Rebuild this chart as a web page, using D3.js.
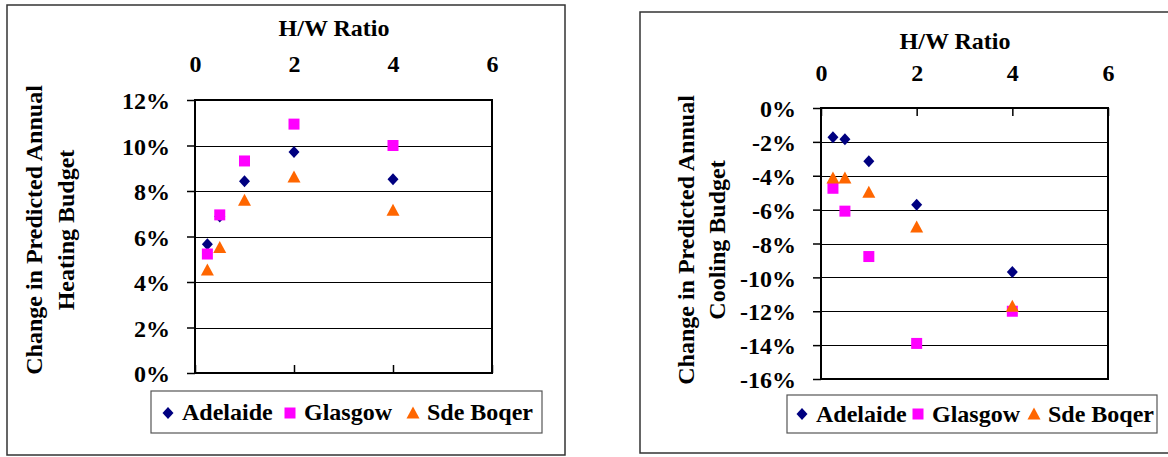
<!DOCTYPE html>
<html>
<head>
<meta charset="utf-8">
<script src="https://cdn.jsdelivr.net/npm/d3@7"></script>
<style>
  html, body { margin: 0; padding: 0; background: #fff; }
  svg { display: block; }
  text { font-family: "Liberation Serif", "Times New Roman", serif; font-weight: bold; fill: #000; }
</style>
</head>
<body>
<svg id="chart" width="1168" height="457"></svg>
<script>
// H/W ratio of the street canyon (x values shared by every series)
const hwRatio = [0.25, 0.5, 1, 2, 4];
const seriesNames = ["Adelaide", "Glasgow", "Sde Boqer"];

// Change in predicted annual heating budget (%)
const heatingAdelaide = [5.66, 6.88, 8.43, 9.71, 8.52];
const heatingGlasgow  = [5.23, 6.95, 9.32, 10.94, 10.0];
const heatingSdeBoqer = [4.53, 5.52, 7.59, 8.61, 7.15];

// Change in predicted annual cooling budget (%)
const coolingAdelaide = [-1.73, -1.85, -3.15, -5.71, -9.68];
const coolingGlasgow  = [-4.74, -6.09, -8.77, -13.9, -12.0];
const coolingSdeBoqer = [-4.13, -4.13, -4.98, -7.03, -11.7];

// Axis ticks
const xTicks = [0, 2, 4, 6];
const heatingTicks = [0, 2, 4, 6, 8, 10, 12];
const coolingTicks = [0, -2, -4, -6, -8, -10, -12, -14, -16];

const seriesColors = ["#000080", "#FF00FF", "#FF6600"];
const seriesShapes = ["diamond", "square", "triangle"];

const svg = d3.select("#chart");

function markerPath(shape) {
  const p = d3.path();
  if (shape === "diamond") {
    p.moveTo(0, -6); p.lineTo(5.5, 0); p.lineTo(0, 6); p.lineTo(-5.5, 0); p.closePath();
  } else if (shape === "square") {
    p.rect(-5.5, -5.5, 11, 11);
  } else {
    p.moveTo(0, -6.5); p.lineTo(6.5, 5.5); p.lineTo(-6.5, 5.5); p.closePath();
  }
  return p.toString();
}

function drawPanel(cfg) {
  const g = svg.append("g");

  // outer chart frame
  g.append("rect")
    .attr("x", cfg.frame[0]).attr("y", cfg.frame[1])
    .attr("width", cfg.frame[2] - cfg.frame[0]).attr("height", cfg.frame[3] - cfg.frame[1])
    .attr("fill", "#fff").attr("stroke", "#333").attr("stroke-width", 1.5);

  const x = d3.scaleLinear().domain([0, 6]).range([cfg.plot.x0, cfg.plot.x1]);
  const y = d3.scaleLinear().domain(cfg.yDomain).range([cfg.plot.y1, cfg.plot.y0]);

  // horizontal gridlines
  g.append("g")
    .selectAll("line")
    .data(cfg.yTicks.filter(t => t !== cfg.yDomain[0] && t !== cfg.yDomain[1]))
    .join("line")
    .attr("x1", cfg.plot.x0).attr("x2", cfg.plot.x1)
    .attr("y1", d => Math.round(y(d)) + 0.5).attr("y2", d => Math.round(y(d)) + 0.5)
    .attr("stroke", "#000").attr("stroke-width", 1);

  // y axis with outward ticks and percentage labels
  const yAxis = g.append("g")
    .attr("transform", `translate(${cfg.plot.x0},0)`)
    .call(d3.axisLeft(y).tickValues(cfg.yTicks).tickSize(8).tickPadding(17)
      .tickFormat(d => d + "%"));
  yAxis.select(".domain").remove();
  yAxis.selectAll(".tick line").attr("stroke", "#000").attr("stroke-width", 1.5);
  yAxis.selectAll(".tick text").attr("font-size", 24).attr("font-family", null)
    .attr("dy", "0.36em");

  // x axis ticks sit on the zero line, pointing into the plot
  const zeroY = y(0);
  const tickAxis = cfg.yDomain[1] === 0
    ? d3.axisBottom(x).tickValues(xTicks).tickSize(8).tickFormat("")
    : d3.axisTop(x).tickValues(xTicks).tickSize(8).tickFormat("");
  const xt = g.append("g").attr("transform", `translate(0,${zeroY})`).call(tickAxis);
  xt.select(".domain").remove();
  xt.selectAll(".tick line").attr("stroke", "#000").attr("stroke-width", 1.5);

  // x tick labels placed above the plot
  const xl = g.append("g")
    .attr("transform", `translate(0,${cfg.xLabelBaseline})`)
    .call(d3.axisTop(x).tickValues(xTicks).tickSize(0).tickPadding(0)
      .tickFormat(d3.format("d")));
  xl.select(".domain").remove();
  xl.selectAll(".tick text").attr("font-size", 24).attr("font-family", null).attr("dy", 0);

  // plot area border
  g.append("rect")
    .attr("x", cfg.plot.x0).attr("y", cfg.plot.y0)
    .attr("width", cfg.plot.x1 - cfg.plot.x0).attr("height", cfg.plot.y1 - cfg.plot.y0)
    .attr("fill", "none").attr("stroke", "#000").attr("stroke-width", 2);

  // x axis title
  g.append("text")
    .attr("x", cfg.xTitle[0]).attr("y", cfg.xTitle[1])
    .attr("text-anchor", "middle").attr("font-size", 24)
    .text("H/W Ratio");

  // y axis title on two rotated lines
  cfg.yTitleLines.forEach((line, i) => {
    g.append("text")
      .attr("transform", `translate(${cfg.yTitleX[i]},${cfg.yTitleCenter}) rotate(-90)`)
      .attr("text-anchor", "middle").attr("font-size", 24)
      .text(line);
  });

  // data markers
  cfg.series.forEach((vals, si) => {
    g.append("g")
      .selectAll("path")
      .data(vals.map((v, i) => [hwRatio[i], v]))
      .join("path")
      .attr("d", markerPath(seriesShapes[si]))
      .attr("transform", d => `translate(${x(d[0])},${y(d[1])})`)
      .attr("fill", seriesColors[si]);
  });

  // legend
  const L = cfg.legend;
  const lg = g.append("g").attr("transform", `translate(${L.x},${L.y})`);
  lg.append("rect")
    .attr("width", L.w).attr("height", L.h)
    .attr("fill", "#fff").attr("stroke", "#555").attr("stroke-width", 1.2);
  seriesNames.forEach((name, si) => {
    lg.append("path")
      .attr("d", markerPath(seriesShapes[si]))
      .attr("transform", `translate(${L.markerX[si]},${L.markerY})`)
      .attr("fill", seriesColors[si]);
    lg.append("text")
      .attr("x", L.markerX[si] + 14).attr("y", L.textBaseline)
      .attr("font-size", 24)
      .text(name);
  });
}

drawPanel({
  frame: [7, 5, 565, 455],
  plot: { x0: 195, x1: 492, y0: 100, y1: 373 },
  yDomain: [0, 12],
  yTicks: heatingTicks,
  xLabelBaseline: 72,
  xTitle: [334, 36],
  yTitleLines: ["Change in Predicted Annual", "Heating Budget"],
  yTitleX: [42, 74],
  yTitleCenter: 230,
  series: [heatingAdelaide, heatingGlasgow, heatingSdeBoqer],
  legend: { x: 151, y: 391, w: 391, h: 42, markerX: [17, 139, 262], markerY: 22, textBaseline: 29 }
});

drawPanel({
  frame: [640, 12, 1175, 453],
  plot: { x0: 821, x1: 1108, y0: 108, y1: 379 },
  yDomain: [-16, 0],
  yTicks: coolingTicks,
  xLabelBaseline: 81,
  xTitle: [955, 49],
  yTitleLines: ["Change in Predicted Annual", "Cooling Budget"],
  yTitleX: [694, 725],
  yTitleCenter: 240,
  series: [coolingAdelaide, coolingGlasgow, coolingSdeBoqer],
  legend: { x: 787, y: 395, w: 370, h: 38, markerX: [15, 131, 247], markerY: 19, textBaseline: 27 }
});
</script>
</body>
</html>
